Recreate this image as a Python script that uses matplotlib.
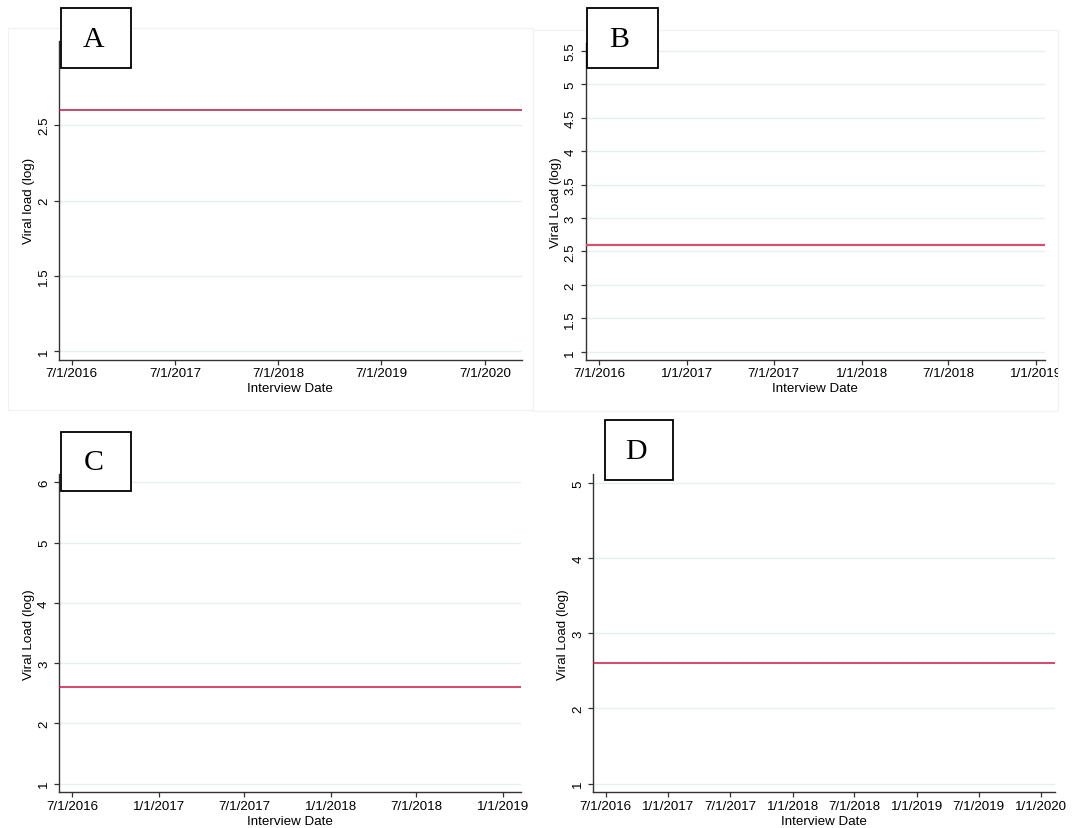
import datetime as dt
import matplotlib
matplotlib.use('Agg')
import matplotlib.pyplot as plt
from matplotlib.patches import Rectangle
from matplotlib.transforms import Bbox, TransformedBbox

W, H = 1073, 829

# panel texts
panel_letters = ['A', 'B', 'C', 'D']
y_titles = ['Viral load (log)', 'Viral Load (log)', 'Viral Load (log)', 'Viral Load (log)']
x_title = 'Interview Date'

# horizontal reference value drawn in each panel
threshold = [2.6, 2.6, 2.6, 2.6]

# y ticks per panel
y_ticks_a = [1, 1.5, 2, 2.5]
y_ticks_b = [1, 1.5, 2, 2.5, 3, 3.5, 4, 4.5, 5, 5.5]
y_ticks_c = [1, 2, 3, 4, 5, 6]
y_ticks_d = [1, 2, 3, 4, 5]

# x ticks per panel (dates)
x_ticks_a = ['7/1/2016', '7/1/2017', '7/1/2018', '7/1/2019', '7/1/2020']
x_ticks_b = ['7/1/2016', '1/1/2017', '7/1/2017', '1/1/2018', '7/1/2018', '1/1/2019']
x_ticks_c = ['7/1/2016', '1/1/2017', '7/1/2017', '1/1/2018', '7/1/2018', '1/1/2019']
x_ticks_d = ['7/1/2016', '1/1/2017', '7/1/2017', '1/1/2018', '7/1/2018', '1/1/2019',
             '7/1/2019', '1/1/2020']

# axis ranges
y_range_a = (0.947, 3.056)
y_range_b = (0.885, 5.62)
y_range_c = (0.856, 6.138)
y_range_d = (0.885, 5.12)
x_range_a = ('5/18/2016', '11/7/2020')
x_range_b = ('6/2/2016', '1/20/2019')
x_range_c = ('6/3/2016', '2/9/2019')
x_range_d = ('5/26/2016', '2/10/2020')

# layout in pixels: (left, top, right, bottom)
axes_px = [(59.3, 42.1, 521.5, 360.5), (585.5, 43.8, 1045, 360.5),
           (59.3, 475, 521.4, 793.3), (593.4, 475, 1054.9, 793.3)]
box_px = [(61.4, 8.6, 131.4, 68.9), (587.4, 9, 657.7, 69),
          (61.4, 432.7, 131.4, 492.3), (605.1, 421, 672.7, 481)]
frame_px = [(7.6, 29.3, 533.3, 411), (533.3, 30.7, 1057.7, 412)]
line_style = [('#B81A3E', 1.1), ('#D9506E', 1.6), ('#D0163F', 1.1), ('#D0163F', 1.1)]


def to_date(s):
    return dt.datetime.strptime(s, '%m/%d/%Y')


def fig_rect(l, t, r, b):
    return [l / W, 1 - b / H, (r - l) / W, (b - t) / H]


plt.rcParams['font.family'] = ['Liberation Sans', 'DejaVu Sans']

fig = plt.figure(figsize=(W / 100, H / 100), dpi=100)
fig.patch.set_facecolor('white')

# faint graph-region frames (top row)
for l, t, r, b in frame_px:
    fig.add_artist(Rectangle((l / W, 1 - b / H), (r - l) / W, (b - t) / H,
                             transform=fig.transFigure, fill=False,
                             ec='#EDF3F3', lw=0.8, zorder=-1))

y_ticks = [y_ticks_a, y_ticks_b, y_ticks_c, y_ticks_d]
x_ticks = [x_ticks_a, x_ticks_b, x_ticks_c, x_ticks_d]
y_ranges = [y_range_a, y_range_b, y_range_c, y_range_d]
x_ranges = [x_range_a, x_range_b, x_range_c, x_range_d]

for i in range(4):
    l, t, r, b = axes_px[i]
    ax = fig.add_axes(fig_rect(l, t, r, b))
    ax.set_facecolor('none')

    ax.set_xlim(to_date(x_ranges[i][0]), to_date(x_ranges[i][1]))
    ax.set_ylim(*y_ranges[i])

    ax.set_xticks([to_date(s) for s in x_ticks[i]], labels=x_ticks[i])
    ax.set_yticks(y_ticks[i], labels=[f'{v:g}' for v in y_ticks[i]],
                  rotation=90, va='center')

    ax.yaxis.grid(True, color='#E6EEEE', lw=1.0)
    ax.set_axisbelow(True)

    color, lw = line_style[i]
    ax.axhline(threshold[i], color=color, lw=lw, zorder=3)

    for side in ['top', 'right']:
        ax.spines[side].set_visible(False)
    for side in ['left', 'bottom']:
        ax.spines[side].set_color('#333333')
        ax.spines[side].set_linewidth(1.0)
    ax.tick_params(direction='out', length=3.6, width=0.9, color='#333333',
                   labelsize=9.6, pad=2)
    ax.tick_params(axis='y', pad=3)

    # panel B's graph region cuts off the last date label
    if i == 1:
        fl, ft, fr, fb = frame_px[1]
        clip = TransformedBbox(Bbox([[fl / W, 0], [fr / W, 1]]), fig.transFigure)
        for lab in ax.get_xticklabels():
            lab.set_clip_box(clip)
            lab.set_clip_on(True)

    # axis titles
    fig.text((l - 30) / W, 1 - ((t + b) / 2) / H, y_titles[i], rotation=90,
             ha='center', va='center', fontsize=9.6)
    fig.text(((l + r) / 2) / W, 1 - (b + 29) / H, x_title,
             ha='center', va='center', fontsize=9.6)

    # panel letter box
    bl, bt, br, bb = box_px[i]
    fig.add_artist(Rectangle((bl / W, 1 - bb / H), (br - bl) / W, (bb - bt) / H,
                             transform=fig.transFigure, fc='white', ec='black',
                             lw=1.3, zorder=5))
    fig.text(((bl + br) / 2 - 3) / W, 1 - ((bt + bb) / 2 + 1) / H, panel_letters[i],
             family='Liberation Serif', fontsize=21.5, ha='center', va='center',
             zorder=6)

fig.savefig('out.png', dpi=100)
